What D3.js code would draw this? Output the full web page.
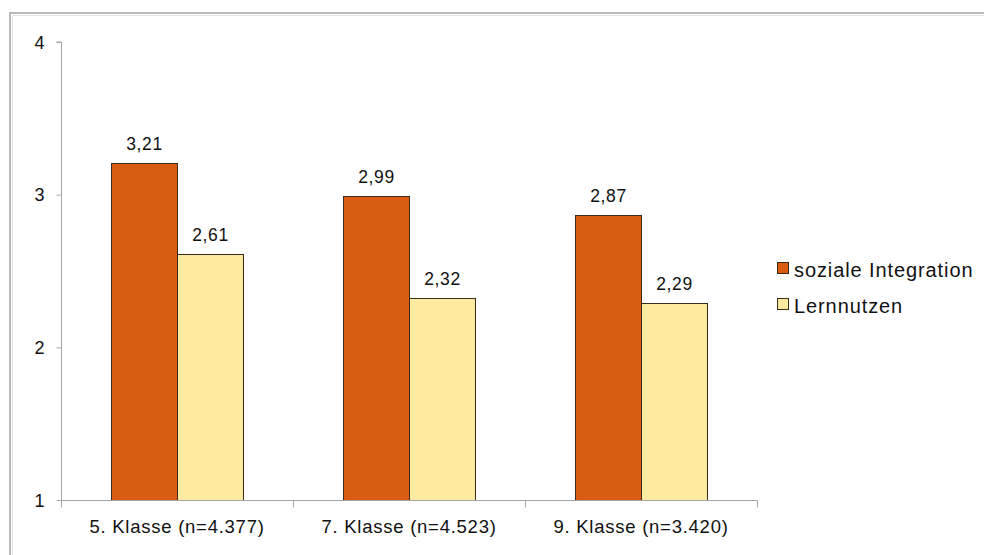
<!DOCTYPE html>
<html>
<head>
<meta charset="utf-8">
<script src="https://cdn.jsdelivr.net/npm/d3@7"></script>
<style>
  html, body { margin: 0; padding: 0; background: #fff; }
  svg { display: block; font-family: "Liberation Sans", Arial, sans-serif; }
</style>
</head>
<body>
<svg id="chart" width="984" height="555"></svg>
<script>
const categories = ["5. Klasse (n=4.377)", "7. Klasse (n=4.523)", "9. Klasse (n=3.420)"];
const seriesNames = ["soziale Integration", "Lernnutzen"];
const sozialeIntegration = [3.21, 2.99, 2.87];
const lernnutzen = [2.61, 2.32, 2.29];
const yTicks = [1, 2, 3, 4];
const seriesColors = ["#D95C10", "#FFEBA0"];

const seriesValues = [sozialeIntegration, lernnutzen];
const svg = d3.select("#chart");

// outer frame (double border, cut at right/bottom)
svg.append("rect").attr("x", 10).attr("y", 13).attr("width", 990).attr("height", 600)
  .attr("fill", "none").attr("stroke", "#b9b9b9").attr("stroke-width", 2);
svg.append("rect").attr("x", 12.5).attr("y", 15.5).attr("width", 990).attr("height", 600)
  .attr("fill", "none").attr("stroke", "#e2e2e2").attr("stroke-width", 1);

const y = d3.scaleLinear().domain([1, 4]).range([500, 42]);
const x0 = d3.scaleBand().domain(categories).range([61, 757]).paddingInner(0).paddingOuter(0);
const x1 = d3.scaleBand().domain(seriesNames).range([0, x0.bandwidth()]).paddingInner(0).paddingOuter(0.758);

const fmt = v => d3.format(".2f")(v).replace(".", ",");

// bars
const groups = svg.append("g").selectAll("g").data(categories).join("g")
  .attr("transform", d => `translate(${x0(d)},0)`);

groups.each(function(cat, ci) {
  const g = d3.select(this);
  seriesNames.forEach((s, si) => {
    const v = seriesValues[si][ci];
    g.append("rect")
      .attr("x", x1(s) + 0.5)
      .attr("y", Math.round(y(v)) + 0.5)
      .attr("width", x1.bandwidth())
      .attr("height", y(1) - Math.round(y(v)))
      .attr("fill", seriesColors[si])
      .attr("stroke", "#3a2a1c")
      .attr("stroke-width", 1);
    g.append("text")
      .attr("x", x1(s) + x1.bandwidth() / 2 + 0.5)
      .attr("y", y(v) - 13)
      .attr("text-anchor", "middle")
      .attr("font-size", 17.5)
      .attr("letter-spacing", 0.6)
      .attr("fill", "#111")
      .text(fmt(v));
  });
});

// y axis
const yAxis = d3.axisLeft(y).tickValues(yTicks).tickFormat(d3.format("d")).tickSize(5).tickPadding(12);
const gy = svg.append("g").attr("transform", "translate(61.5,0)").call(yAxis);
gy.select(".domain").attr("stroke", "#a6a6a6").attr("d", `M-5,${y(4)}H0V${y(1)}`);
gy.selectAll(".tick line").attr("stroke", "#a6a6a6");
gy.selectAll(".tick text").attr("font-size", 18).attr("fill", "#111")
  .attr("font-family", "Liberation Sans, Arial, sans-serif").attr("dy", "0.35em");

// x axis
const gx = svg.append("g").attr("transform", `translate(0,${y(1) + 0.5})`);
gx.append("line").attr("x1", 61).attr("x2", 757.5).attr("y1", 0).attr("y2", 0).attr("stroke", "#a6a6a6");
const bounds = categories.map(c => x0(c)).concat([x0(categories[categories.length - 1]) + x0.bandwidth()]);
gx.selectAll("line.tk").data(bounds).join("line").attr("class", "tk")
  .attr("x1", d => Math.round(d) + 0.5).attr("x2", d => Math.round(d) + 0.5)
  .attr("y1", 0).attr("y2", 7).attr("stroke", "#a6a6a6");
gx.selectAll("text").data(categories).join("text")
  .attr("x", d => x0(d) + x0.bandwidth() / 2)
  .attr("y", 32)
  .attr("text-anchor", "middle")
  .attr("font-size", 18.5)
  .attr("letter-spacing", 0.75)
  .attr("fill", "#111")
  .text(d => d);

// legend
const lg = svg.append("g").attr("transform", "translate(777,262)");
seriesNames.forEach((s, i) => {
  lg.append("rect").attr("x", 0.5).attr("y", i * 36 + 0.5).attr("width", 11).attr("height", 11)
    .attr("fill", seriesColors[i]).attr("stroke", "#3a2a1c").attr("stroke-width", 1);
  lg.append("text").attr("x", 17).attr("y", i * 36 + 14.7)
    .attr("font-size", 20).attr("letter-spacing", 0.9).attr("fill", "#111").text(s);
});
</script>
</body>
</html>
